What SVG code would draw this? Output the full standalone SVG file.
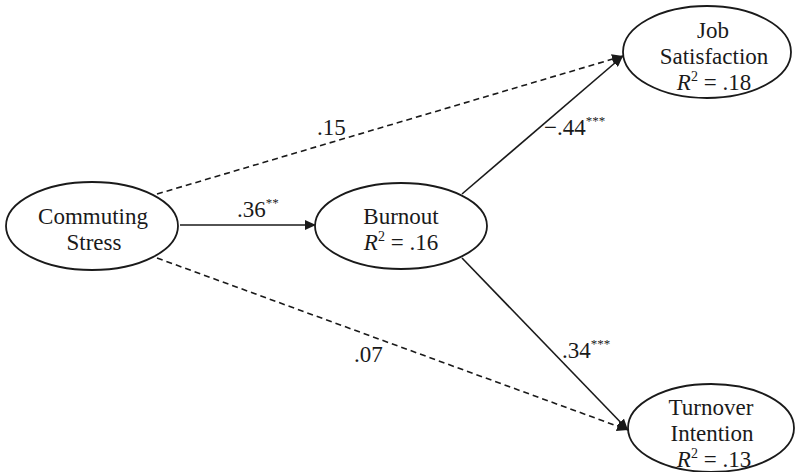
<svg xmlns="http://www.w3.org/2000/svg" width="795" height="472" viewBox="0 0 795 472">
<style>
.node ellipse{fill:#fff;stroke:#1a1a1a;stroke-width:1.8}
.edge{stroke:#1a1a1a;stroke-width:1.6;fill:none}
.dash{stroke-dasharray:6 4}
</style>
<defs>
<marker id="ah" markerUnits="userSpaceOnUse" markerWidth="12" markerHeight="10" refX="11" refY="5" orient="auto">
<path d="M0,0 L11,5 L0,10 Z" fill="#1a1a1a"/>
</marker>
</defs>
<rect width="795" height="472" fill="#fff"/>
<g id="connectors">
<line class="edge" x1="180" y1="225" x2="316" y2="225" marker-end="url(#ah)"/>
<line class="edge dash" x1="157" y1="194" x2="623" y2="56" marker-end="url(#ah)"/>
<line class="edge dash" x1="157" y1="258" x2="628" y2="430" marker-end="url(#ah)"/>
<line class="edge" x1="462" y1="194" x2="623" y2="56" marker-end="url(#ah)"/>
<line class="edge" x1="462" y1="258" x2="628" y2="430" marker-end="url(#ah)"/>
</g>
<g id="edge-labels" font-family="Liberation Serif" font-size="23" fill="#1a1a1a">
<text x="237" y="217">.36<tspan font-size="13" dy="-10">**</tspan></text>
<text x="317" y="135">.15</text>
<text x="544" y="135">−.44<tspan font-size="13" dy="-10">***</tspan></text>
<text x="562" y="358">.34<tspan font-size="13" dy="-10">***</tspan></text>
<text x="354" y="362">.07</text>
</g>
<g id="commuting-stress" class="node" font-family="Liberation Serif" font-size="23" fill="#1a1a1a" text-anchor="middle">
<ellipse cx="92" cy="226" rx="86" ry="44"/>
<text x="93" y="224">Commuting</text>
<text x="94" y="250">Stress</text>
</g>
<g id="burnout" class="node" font-family="Liberation Serif" font-size="23" fill="#1a1a1a" text-anchor="middle">
<ellipse cx="401" cy="226" rx="86" ry="43"/>
<text x="401" y="224">Burnout</text>
<text x="401" y="250"><tspan font-style="italic">R</tspan><tspan font-size="14" dy="-9">2</tspan><tspan dy="9"> = .16</tspan></text>
</g>
<g id="job-satisfaction" class="node" font-family="Liberation Serif" font-size="23" fill="#1a1a1a" text-anchor="middle">
<ellipse cx="707" cy="52" rx="84" ry="46"/>
<text x="713" y="38">Job</text>
<text x="714" y="64">Satisfaction</text>
<text x="714" y="90"><tspan font-style="italic">R</tspan><tspan font-size="14" dy="-9">2</tspan><tspan dy="9"> = .18</tspan></text>
</g>
<g id="turnover-intention" class="node" font-family="Liberation Serif" font-size="23" fill="#1a1a1a" text-anchor="middle">
<ellipse cx="711" cy="428" rx="83" ry="44"/>
<text x="711" y="415">Turnover</text>
<text x="712" y="441">Intention</text>
<text x="714" y="467"><tspan font-style="italic">R</tspan><tspan font-size="14" dy="-9">2</tspan><tspan dy="9"> = .13</tspan></text>
</g>
</svg>
